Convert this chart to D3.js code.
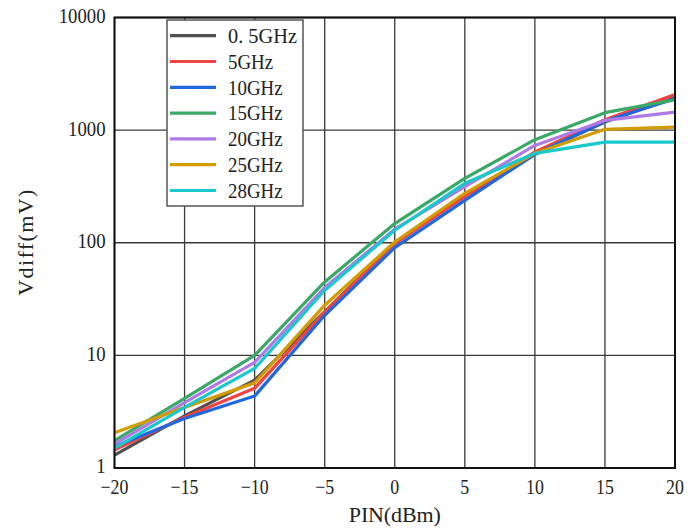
<!DOCTYPE html>
<html><head><meta charset="utf-8">
<script src="https://cdn.jsdelivr.net/npm/d3@7"></script>
<style>body{margin:0;background:#fff}svg{display:block}</style>
</head><body>
<svg id="c" width="700" height="529"></svg>
<script>
const xValues = [-20, -15, -10, -5, 0, 5, 10, 15, 20];
const seriesNames = ["0. 5GHz", "5GHz", "10GHz", "15GHz", "20GHz", "25GHz", "28GHz"];
const seriesColors = ["#505050", "#f04444", "#2168dd", "#3aa866", "#b07ae6", "#d09c00", "#18c8cc"];
const v05 = [1.3, 2.9, 6.03, 24.5, 100, 258, 610, 1180, 1950];
const v5  = [1.45, 2.82, 5.1, 24.3, 98, 258, 640, 1238, 2075];
const v10 = [1.55, 2.75, 4.35, 22.7, 90.6, 238, 610, 1203, 1900];
const v15 = [1.75, 4.15, 10, 44.9, 148, 373, 823, 1429, 1862];
const v20 = [1.63, 3.8, 8.65, 40, 132, 315, 732, 1220, 1445];
const v25 = [2.06, 3.45, 5.7, 27.9, 101.6, 275, 622, 1016, 1064];
const v28 = [1.5, 3.45, 7.66, 37.9, 129, 337, 622, 783, 783];
const seriesValues = [v05, v5, v10, v15, v20, v25, v28];
const xTicks = [-20, -15, -10, -5, 0, 5, 10, 15, 20];
const yTicks = [1, 10, 100, 1000, 10000];
const xLabel = "PIN(dBm)";
const yLabel = "Vdiff(mV)";

const svg = d3.select("#c");
const L = 114.5, R = 675, T = 17.5, B = 468;
const x = d3.scaleLinear().domain([-20, 20]).range([L, R]);
const y = d3.scaleLog().domain([1, 10000]).range([B, T]);
const font = "'Liberation Serif', 'DejaVu Serif', serif";

// grid
const g = svg.append("g");
g.selectAll("line.vx").data(xTicks).enter().append("line")
  .attr("x1", d => x(d)).attr("x2", d => x(d)).attr("y1", T).attr("y2", B)
  .attr("stroke", "#3a3a3a").attr("stroke-width", 1.3);
g.selectAll("line.hy").data(yTicks).enter().append("line")
  .attr("y1", d => y(d)).attr("y2", d => y(d)).attr("x1", L).attr("x2", R)
  .attr("stroke", "#3a3a3a").attr("stroke-width", 1.3);

// x axis labels
const xAxis = d3.axisBottom(x).tickValues(xTicks).tickSize(0).tickPadding(0)
  .tickFormat(d => d < 0 ? "\u2212" + Math.abs(d) : d);
const xa = svg.append("g").attr("transform", `translate(0,${B})`).call(xAxis);
xa.select(".domain").remove();
xa.selectAll(".tick").each(function(d){
  const t = d3.select(this);
  t.attr("transform", null);
  t.select("text").attr("font-family", font).attr("font-size", 21).attr("fill", "#222")
    .attr("dy", null).attr("y", 26).attr("x", 0)
    .attr("transform", `translate(${x(d)},0) scale(0.85,1)`);
});

// y axis labels
const yAxis = d3.axisLeft(y).tickValues(yTicks).tickSize(0).tickPadding(0).tickFormat(d3.format("d"));
const ya = svg.append("g").attr("transform", `translate(${L},0)`).call(yAxis);
ya.select(".domain").remove();
ya.selectAll(".tick").each(function(d){
  const t = d3.select(this);
  t.attr("transform", null);
  t.select("text").attr("font-family", font).attr("font-size", 22).attr("fill", "#222")
    .attr("x", 0).attr("dy", "0.34em").attr("text-anchor", "end")
    .attr("transform", `translate(-9,${y(d) - 2}) scale(0.85,1)`);
});

// lines
const line = d3.line().x((d, i) => x(xValues[i])).y(d => y(d));
svg.append("g").selectAll("path").data(seriesValues).enter().append("path")
  .attr("d", d => line(d)).attr("fill", "none")
  .attr("stroke", (d, i) => seriesColors[i]).attr("stroke-width", 3.2)
  .attr("stroke-linejoin", "round");

// frame
svg.append("rect").attr("x", L).attr("y", T).attr("width", R - L).attr("height", B - T)
  .attr("fill", "none").attr("stroke", "#111").attr("stroke-width", 2);

// legend
const lg = svg.append("g");
lg.append("rect").attr("x", 167).attr("y", 20).attr("width", 136).attr("height", 186)
  .attr("fill", "#fff").attr("stroke", "#555").attr("stroke-width", 1.5);
const rows = lg.selectAll("g.row").data(seriesNames).enter().append("g")
  .attr("transform", (d, i) => `translate(0,${35.7 + i * 25.8})`);
rows.append("line").attr("x1", 170).attr("x2", 216).attr("y1", 0).attr("y2", 0)
  .attr("stroke", (d, i) => seriesColors[i]).attr("stroke-width", 3.2);
rows.append("text").text(d => d).attr("font-family", font).attr("font-size", 21)
  .attr("fill", "#222").attr("dy", "0.35em")
  .attr("transform", (d, i) => i === 0 ? "translate(228,0) scale(0.97,1)" : "translate(228,0) scale(0.9,1)");

// axis titles
svg.append("text").text(xLabel).attr("font-family", font).attr("font-size", 22).attr("fill", "#222")
  .attr("text-anchor", "middle").attr("textLength", 92).attr("lengthAdjust", "spacing")
  .attr("transform", `translate(${(L + R) / 2},522)`);
svg.append("text").text(yLabel).attr("font-family", font).attr("font-size", 22).attr("fill", "#222")
  .attr("text-anchor", "middle").attr("textLength", 106).attr("lengthAdjust", "spacing")
  .attr("transform", `translate(33,${(T + B) / 2}) rotate(-90)`);
</script>
</body></html>
